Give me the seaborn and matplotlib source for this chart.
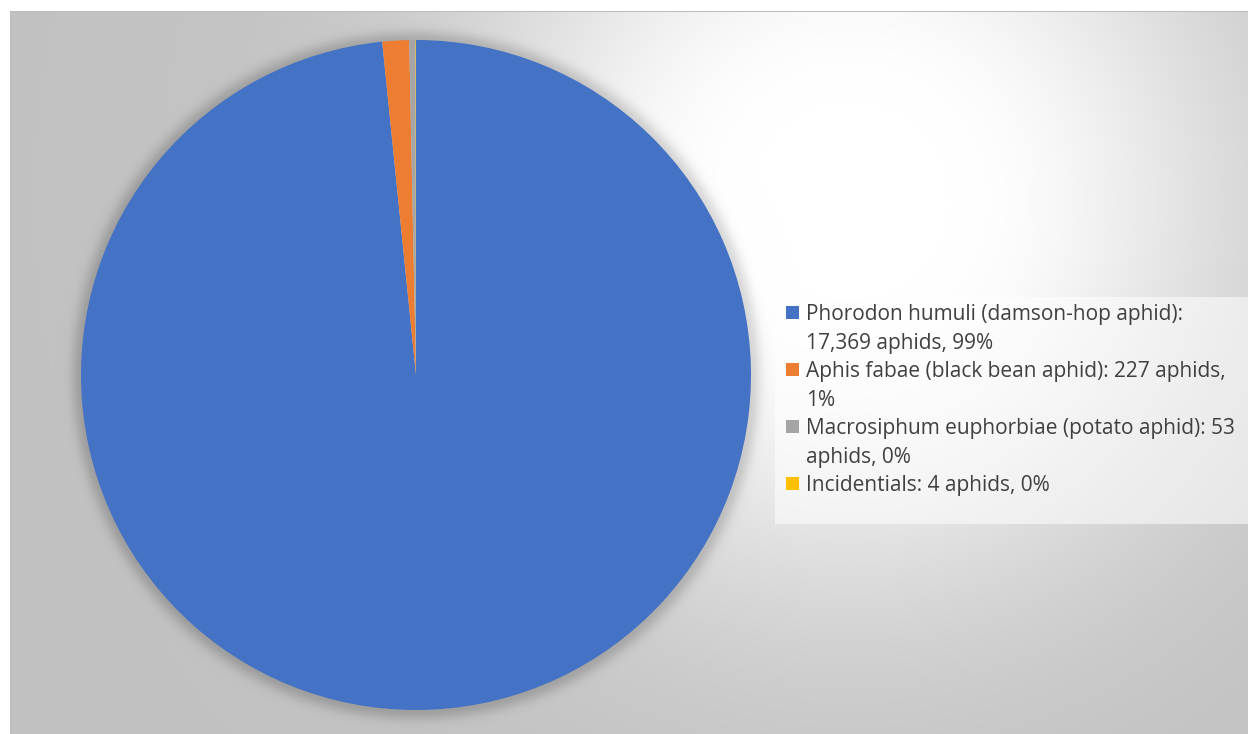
import numpy as np
import matplotlib
matplotlib.use("Agg")
import matplotlib.pyplot as plt
from matplotlib.patches import Rectangle
import seaborn as sns

# Aphid counts by species
species = [
    "Phorodon humuli (damson-hop aphid)",
    "Aphis fabae (black bean aphid)",
    "Macrosiphum euphorbiae (potato aphid)",
    "Incidentials",
]
counts = [17369, 227, 53, 4]
percents = [99, 1, 0, 0]

sns.set_theme(style="white")
plt.rcParams["font.family"] = ["Open Sans", "DejaVu Sans"]

colors = sns.color_palette(["#4472C4", "#ED7D31", "#A5A5A5", "#FFC000"])

W, H, DPI = 1248, 734, 100
fig = plt.figure(figsize=(W / DPI, H / DPI), dpi=DPI)
fig.patch.set_facecolor("white")

# Pie geometry in pixels
cx, cy, R = 416, 375, 335

# Chart-area background: radial grey gradient with a soft glow round the pie
yy, xx = np.mgrid[0:H, 0:W].astype(float)
r = np.hypot(xx - 850, yy - 200)
val = 0.76 + 0.24 * np.exp(-(np.clip(r - 100, 0, None) / 300.0) ** 2)
d = np.hypot(xx - cx, yy - cy) - R
val -= 0.14 * np.exp(-(np.clip(d, 0, None) / 10.0) ** 2) * (d > -2)
val = np.clip(val, 0, 1)
inside = (xx >= 10) & (yy >= 11)
val = np.where(inside, val, 1.0)
val = np.where(inside & ((np.abs(xx - 10) < 1) | (np.abs(yy - 11) < 1)), 0.74, val)
bg = fig.add_axes([0, 0, 1, 1])
bg.imshow(np.dstack([val] * 3), extent=[0, W, H, 0], interpolation="bilinear")
bg.set_xlim(0, W)
bg.set_ylim(H, 0)
bg.axis("off")

# Pie
ax = fig.add_axes([(cx - R) / W, (H - cy - R) / H, 2 * R / W, 2 * R / H])
ax.pie(counts, colors=colors, startangle=90, counterclock=False,
       radius=1, wedgeprops=dict(linewidth=0))
ax.set_xlim(-1, 1)
ax.set_ylim(-1, 1)
ax.set_aspect("auto")
ax.axis("off")

# Legend panel
bg.add_patch(Rectangle((775, 297), 480, 227, facecolor="white", alpha=0.55,
                       edgecolor="none"))

fontsize = 15.0
text_color = "#404040"
renderer = fig.canvas.get_renderer()


def text_width(s):
    t = fig.text(0, 0, s, fontsize=fontsize)
    w = t.get_window_extent(renderer=renderer).width
    t.remove()
    return w


def wrap(s, max_px):
    words = s.split(" ")
    lines, cur = [], words[0]
    for w in words[1:]:
        trial = cur + " " + w
        if text_width(trial) <= max_px:
            cur = trial
        else:
            lines.append(cur)
            cur = w
    lines.append(cur)
    return lines


# Legend entries: colour key beside the first line of each wrapped label
line_y = 312.0
pitch = 28.5
for name, c, p, col in zip(species, counts, percents, colors):
    lines = wrap(f"{name}: {c:,} aphids, {p}%", 436)
    bg.add_patch(Rectangle((786, line_y - 6.5), 13, 13, facecolor=col,
                           edgecolor="none"))
    for ln in lines:
        bg.text(806, line_y, ln, fontsize=fontsize, color=text_color,
                va="center_baseline", ha="left")
        line_y += pitch

fig.savefig("out.png", dpi=DPI)
